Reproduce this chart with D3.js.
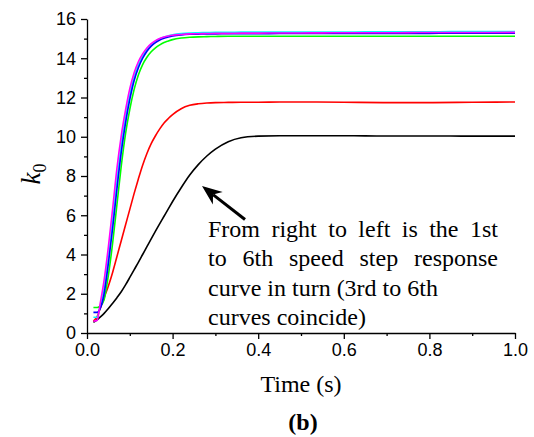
<!DOCTYPE html>
<html>
<head>
<meta charset="utf-8">
<script src="https://cdn.jsdelivr.net/npm/d3@7"></script>
<style>
  html, body { margin: 0; padding: 0; background: #fff; }
  svg { display: block; }
</style>
</head>
<body>
<svg id="chart" width="534" height="437"></svg>
<script>
// Sample times (s)
const time = [0.015, 0.024, 0.03, 0.04, 0.05, 0.06, 0.07, 0.08, 0.09, 0.10,
  0.11, 0.12, 0.13, 0.14, 0.15, 0.16, 0.17, 0.18, 0.19, 0.20,
  0.22, 0.24, 0.26, 0.28, 0.30, 0.33, 0.36, 0.40, 0.45, 0.50,
  0.60, 0.70, 0.80, 0.90, 1.00];

// k0 step responses, 1st to 6th speed
const speed1 = [0.55, 0.68, 0.8, 1.0, 1.25, 1.52, 1.8, 2.1, 2.45, 2.83,
  3.22, 3.6, 4.0, 4.4, 4.8, 5.19, 5.57, 5.95, 6.33, 6.7,
  7.4, 8.05, 8.58, 9.02, 9.37, 9.75, 9.95, 10.03, 10.05, 10.05,
  10.05, 10.04, 10.04, 10.03, 10.03];
const speed2 = [0.6, 0.85, 1.2, 1.8, 2.4, 3.1, 3.9, 4.7, 5.5, 6.3,
  7.1, 7.85, 8.55, 9.15, 9.65, 10.05, 10.4, 10.7, 10.93, 11.13,
  11.43, 11.6, 11.68, 11.72, 11.74, 11.75, 11.76, 11.76, 11.77, 11.77,
  11.76, 11.74, 11.74, 11.76, 11.77];
const speed3 = [1.3, 1.3, 1.35, 1.7, 2.95, 4.6, 6.55, 8.5, 10.15, 11.4,
  12.4, 13.15, 13.68, 14.05, 14.33, 14.53, 14.68, 14.8, 14.88, 14.95,
  15.03, 15.07, 15.09, 15.1, 15.11, 15.12, 15.12, 15.12, 15.12, 15.12,
  15.12, 15.12, 15.12, 15.12, 15.12];
const speed4 = [0.8, 0.8, 1.3, 2.3, 3.9, 5.75, 7.8, 9.6, 11.0, 12.15,
  13.03, 13.66, 14.1, 14.44, 14.68, 14.86, 14.99, 15.08, 15.15, 15.2,
  15.26, 15.29, 15.3, 15.31, 15.32, 15.32, 15.33, 15.33, 15.33, 15.34,
  15.34, 15.35, 15.35, 15.36, 15.36];
const speed5 = [1.05, 1.05, 1.2, 2.0, 3.55, 5.35, 7.35, 9.2, 10.7, 11.9,
  12.85, 13.52, 14.0, 14.36, 14.62, 14.8, 14.93, 15.02, 15.08, 15.13,
  15.19, 15.22, 15.23, 15.24, 15.24, 15.25, 15.25, 15.25, 15.26, 15.26,
  15.26, 15.27, 15.27, 15.28, 15.28];
const speed6 = [0.6, 0.65, 1.4, 2.7, 4.4, 6.35, 8.4, 10.05, 11.35, 12.45,
  13.25, 13.82, 14.22, 14.52, 14.74, 14.9, 15.01, 15.08, 15.13, 15.17,
  15.21, 15.24, 15.25, 15.26, 15.27, 15.27, 15.28, 15.28, 15.29, 15.29,
  15.3, 15.3, 15.31, 15.31, 15.32];

const seriesValues = [speed1, speed2, speed3, speed4, speed5, speed6];
const seriesColors = ["#000000", "#ff0000", "#00ff00", "#00ffff", "#0000ff", "#ff00ff"];

const xTicks = [0, 0.2, 0.4, 0.6, 0.8, 1.0];
const yTicks = [0, 2, 4, 6, 8, 10, 12, 14, 16];

const noteLines = [
  "From right to left is the 1st",
  "to 6th speed step response",
  "curve in turn (3rd to 6th",
  "curves coincide)"
];

const svg = d3.select("#chart");
const plot = { left: 87, right: 515, top: 19, bottom: 333 };

const x = d3.scaleLinear().domain([0, 1]).range([plot.left, plot.right]);
const y = d3.scaleLinear().domain([0, 16]).range([plot.bottom, plot.top]);

svg.append("rect").attr("width", 534).attr("height", 437).attr("fill", "#fff");

// Curves
const line = d3.line()
  .x((d, i) => x(time[i]))
  .y(d => y(d))
  .curve(d3.curveMonotoneX);

svg.append("g")
  .selectAll("path")
  .data(seriesValues)
  .join("path")
  .attr("d", d => line(d))
  .attr("fill", "none")
  .attr("stroke", (d, i) => seriesColors[i])
  .attr("stroke-width", 1.6)
  .attr("stroke-linejoin", "round");

// Axes
const tickFont = "'Liberation Sans', Arial, sans-serif";

const xAxis = svg.append("g")
  .attr("transform", `translate(0,${plot.bottom})`)
  .call(d3.axisBottom(x).tickValues(xTicks).tickFormat(d3.format(".1f")).tickSize(6).tickSizeOuter(0).tickPadding(4));
const xMinor = svg.append("g")
  .attr("transform", `translate(0,${plot.bottom})`)
  .call(d3.axisBottom(x).tickValues([0.1, 0.3, 0.5, 0.7, 0.9]).tickFormat("").tickSize(3).tickSizeOuter(0));
xMinor.select(".domain").remove();

const yAxis = svg.append("g")
  .attr("transform", `translate(${plot.left},0)`)
  .call(d3.axisLeft(y).tickValues(yTicks).tickFormat(d3.format("d")).tickSize(6).tickSizeOuter(0).tickPadding(5));
const yMinor = svg.append("g")
  .attr("transform", `translate(${plot.left},0)`)
  .call(d3.axisLeft(y).tickValues(d3.range(1, 16, 2)).tickFormat("").tickSize(3).tickSizeOuter(0));
yMinor.select(".domain").remove();

[xAxis, yAxis, xMinor, yMinor].forEach(g => {
  g.selectAll(".domain, line").attr("stroke", "#000").attr("stroke-width", 1.3);
  g.selectAll("text").attr("fill", "#000").style("font-family", tickFont).style("font-size", "18px");
});
xAxis.selectAll("text").attr("dy", "0.71em");

// Axis titles
const serif = "'Liberation Serif', 'Times New Roman', serif";
svg.append("text")
  .attr("x", (plot.left + plot.right) / 2)
  .attr("y", 392)
  .attr("text-anchor", "middle")
  .style("font-family", serif)
  .style("font-size", "24px")
  .text("Time (s)");

const yTitle = svg.append("text")
  .attr("transform", "translate(40,174) rotate(-90)")
  .attr("text-anchor", "middle")
  .style("font-family", serif)
  .style("font-size", "27px");
yTitle.append("tspan").style("font-style", "italic").text("k");
yTitle.append("tspan").attr("dy", 6).style("font-size", "18px").text("0");

svg.append("text")
  .attr("x", 303)
  .attr("y", 430)
  .attr("text-anchor", "middle")
  .style("font-family", serif)
  .style("font-size", "24px")
  .style("font-weight", "bold")
  .text("(b)");

// Annotation text, first two lines justified
const noteLeft = 208, noteRight = 498, noteTop = 236.5, noteStep = 29.5;
const note = svg.append("g")
  .style("font-family", serif)
  .style("font-size", "24px")
  .attr("fill", "#000");

noteLines.forEach((str, li) => {
  const yy = noteTop + li * noteStep;
  if (li < 2) {
    const words = str.split(" ");
    const nodes = words.map(w => note.append("text").attr("y", yy).text(w));
    const widths = nodes.map(n => n.node().getComputedTextLength());
    const gap = (noteRight - noteLeft - d3.sum(widths)) / (words.length - 1);
    let cx = noteLeft;
    nodes.forEach((n, k) => { n.attr("x", cx); cx += widths[k] + gap; });
  } else {
    note.append("text").attr("x", noteLeft).attr("y", yy)
      .attr("xml:space", "preserve").text(str);
  }
});

// Arrow pointing at the slowest curve
const tail = [245, 219.5], tip = [202, 186];
const ang = Math.atan2(tip[1] - tail[1], tip[0] - tail[0]);
const headLen = 20, headHalf = 8, notch = 14;
const px = Math.cos(ang), py = Math.sin(ang);
const base = [tip[0] - px * headLen, tip[1] - py * headLen];
const notchPt = [tip[0] - px * notch, tip[1] - py * notch];
svg.append("line")
  .attr("x1", tail[0]).attr("y1", tail[1])
  .attr("x2", notchPt[0]).attr("y2", notchPt[1])
  .attr("stroke", "#000").attr("stroke-width", 3);
svg.append("path")
  .attr("d", d3.line()([
    tip,
    [base[0] - py * headHalf, base[1] + px * headHalf],
    notchPt,
    [base[0] + py * headHalf, base[1] - px * headHalf]
  ]) + "Z")
  .attr("fill", "#000");
</script>
</body>
</html>
